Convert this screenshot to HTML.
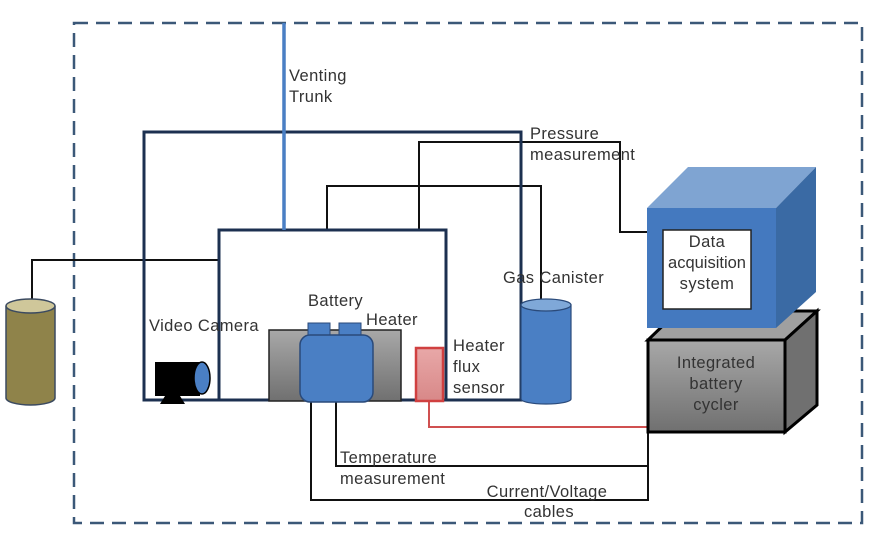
<!DOCTYPE html>
<html><head><meta charset="utf-8"><style>
html,body{margin:0;padding:0;background:#fff;width:873px;height:541px;overflow:hidden}
svg text{font-family:"Liberation Sans",sans-serif;font-size:16.5px;letter-spacing:0.4px;fill:#333}
</style></head><body>
<svg width="873" height="541" viewBox="0 0 873 541" xmlns="http://www.w3.org/2000/svg">
<defs>
<linearGradient id="gy" x1="0" y1="0" x2="0" y2="1"><stop offset="0" stop-color="#a8a8a8"/><stop offset="1" stop-color="#707070"/></linearGradient>
<linearGradient id="pk" x1="0" y1="0" x2="0" y2="1"><stop offset="0" stop-color="#e8a8a8"/><stop offset="1" stop-color="#d88888"/></linearGradient>
</defs>
<rect x="74" y="23" width="788" height="500" fill="none" stroke="#3b5878" stroke-width="2.5" stroke-dasharray="14,8"/>
<g fill="none" stroke="#111" stroke-width="2">
<polyline points="32,300 32,260 219,260"/>
<polyline points="419,230 419,142 620,142 620,232 648,232"/>
<polyline points="327,230 327,186 541,186 541,302"/>
<polyline points="336,402 336,466 648,466"/>
<polyline points="311,402 311,500 648,500 648,432"/>
</g>
<polyline points="429,401 429,427 648,427" fill="none" stroke="#d05050" stroke-width="2"/>
<rect x="144" y="132" width="377" height="268" fill="none" stroke="#1c3050" stroke-width="3"/>
<rect x="219" y="230" width="227" height="170" fill="none" stroke="#1c3050" stroke-width="3"/>
<line x1="284" y1="23" x2="284" y2="230" stroke="#4a7fc4" stroke-width="3.5"/>
<path d="M6,307 L6,398 A24.5,7 0 0 0 55,398 L55,307 Z" fill="#8f834a" stroke="#3b4a60" stroke-width="1.5"/>
<ellipse cx="30.5" cy="306" rx="24.5" ry="7" fill="#cfc79a" stroke="#3b4a60" stroke-width="1.5"/>
<rect x="155" y="362" width="45" height="34" fill="#000"/>
<path d="M160,404 L165,396 L180,396 L185,404 Z" fill="#000"/>
<ellipse cx="202" cy="378" rx="8" ry="16" fill="#4a7fc4" stroke="#000" stroke-width="1.5"/>
<rect x="269" y="330" width="132" height="71" fill="url(#gy)" stroke="#222" stroke-width="1.5"/>
<rect x="308" y="323" width="22" height="14" fill="#4a7fc4" stroke="#2a4a7a" stroke-width="1"/>
<rect x="339" y="323" width="22" height="14" fill="#4a7fc4" stroke="#2a4a7a" stroke-width="1"/>
<rect x="300" y="335" width="73" height="67" rx="10" fill="#4a7fc4" stroke="#2a4a7a" stroke-width="1.5"/>
<rect x="416" y="348" width="27" height="53" fill="url(#pk)" stroke="#d04040" stroke-width="2.5"/>
<path d="M521,305 L521,399 A25,5 0 0 0 571,399 L571,305 Z" fill="#4a7fc4" stroke="#2a4a7a" stroke-width="1.2"/>
<ellipse cx="546" cy="305" rx="25" ry="6" fill="#7fa8d8" stroke="#2a4a7a" stroke-width="1.2"/>
<path d="M648,340 L678,311 L817,311 L785,340 Z" fill="#a0a0a0" stroke="#000" stroke-width="3"/>
<path d="M785,340 L817,311 L817,405 L785,432 Z" fill="#707070" stroke="#000" stroke-width="3"/>
<rect x="648" y="340" width="137" height="92" fill="url(#gy)" stroke="#000" stroke-width="3"/>
<path d="M647,208 L688,167 L816,167 L776,208 Z" fill="#7fa4d2"/>
<path d="M776,208 L816,167 L816,292 L776,328 Z" fill="#3a6aa4"/>
<rect x="647" y="208" width="129" height="120" fill="#4479bf"/>
<rect x="663" y="230" width="88" height="79" fill="#fff" stroke="#222" stroke-width="1.5"/>
<text x="289" y="81">Venting</text><text x="289" y="102">Trunk</text>
<text x="530" y="139">Pressure</text><text x="530" y="160">measurement</text>
<text x="503" y="283">Gas Canister</text>
<text x="308" y="306">Battery</text>
<text x="366" y="325">Heater</text>
<text x="149" y="331">Video Camera</text>
<text x="453" y="351">Heater</text><text x="453" y="372">flux</text><text x="453" y="393">sensor</text>
<g text-anchor="middle"><text x="707" y="247">Data</text><text x="707" y="268" style="letter-spacing:0">acquisition</text><text x="707" y="289">system</text>
<text x="716" y="368">Integrated</text><text x="716" y="389">battery</text><text x="716" y="410">cycler</text>
<text x="547" y="497">Current/Voltage</text><text x="549" y="517">cables</text></g>
<text x="340" y="463">Temperature</text><text x="340" y="484">measurement</text>
</svg>
</body></html>
